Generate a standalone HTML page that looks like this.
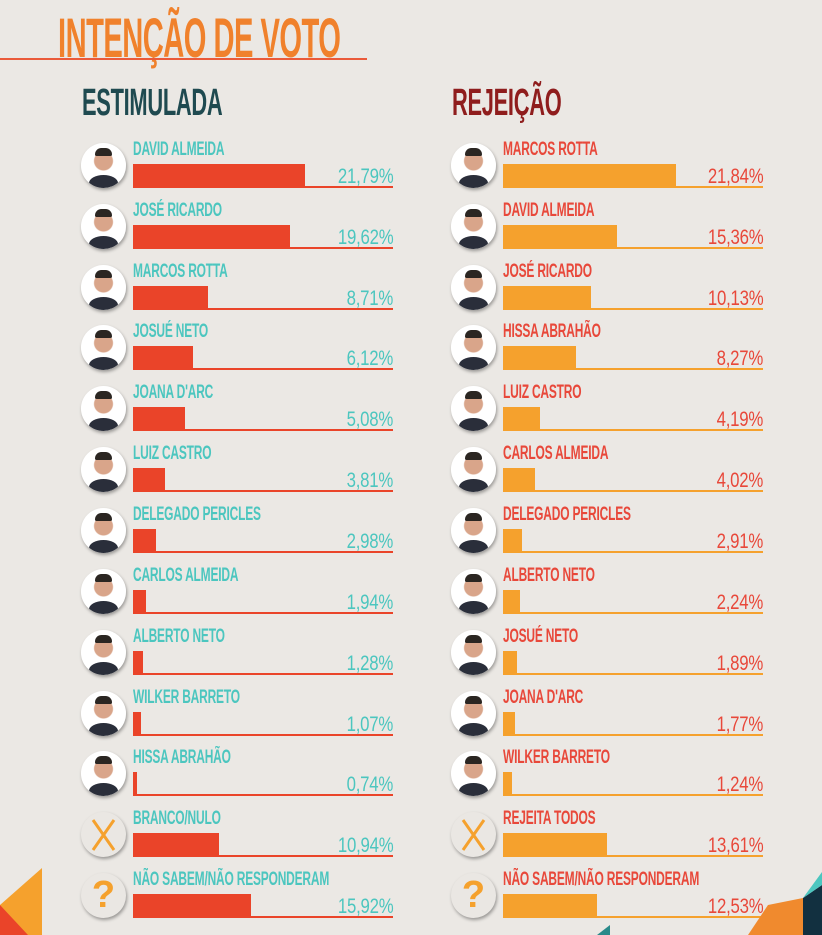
<!DOCTYPE html>
<html><head><meta charset="utf-8"><style>
*{margin:0;padding:0;box-sizing:border-box}
body{width:822px;height:935px;background:#ebe8e4;position:relative;overflow:hidden;font-family:"Liberation Sans Narrow","Liberation Sans",sans-serif;font-weight:bold}
.abs{position:absolute}
.title{left:58px;top:10px;font-size:56px;color:#f0812c;letter-spacing:-1px;line-height:56px;transform:scaleX(0.52);transform-origin:left;white-space:nowrap}
.h{top:84px;font-size:38px;line-height:38px;letter-spacing:-0.5px;transform:scaleX(0.575);transform-origin:left;white-space:nowrap}
.row{position:absolute;width:320px;height:60px}
.av{position:absolute;left:0;top:3px;width:45px;height:45px;border-radius:50%;background:radial-gradient(circle at 50% 40%,#d9a58a 0 9px,#fff 10px);box-shadow:1px 2px 3px rgba(0,0,0,.35);overflow:hidden}
.av:after{content:"";position:absolute;left:8px;top:32px;width:29px;height:16px;border-radius:50% 50% 0 0;background:#2a2e3a}
.av:before{content:"";position:absolute;left:14px;top:5px;width:17px;height:8px;border-radius:8px 8px 2px 2px;background:#2b2622}
.sym{position:absolute;left:0;top:3px;width:45px;height:45px;border-radius:50%;background:#eae7e3;box-shadow:1px 2px 3px rgba(0,0,0,.35);color:#f5a12d;font-size:38px;text-align:center;line-height:45px;font-family:"Liberation Sans",sans-serif}
.nm{position:absolute;left:52px;top:0px;font-size:19px;line-height:20px;white-space:nowrap;transform:scaleX(0.63);transform-origin:left;letter-spacing:-0.3px}
.bar{position:absolute;left:52px;top:24px;height:24px}
.ln{position:absolute;left:52px;top:46px;width:260px;height:2px}
.pc{position:absolute;right:8px;top:26px;font-size:21px;line-height:21px;transform:scaleX(0.8);transform-origin:right;letter-spacing:-0.3px;font-weight:normal}
.L .nm,.L .pc{color:#4cc6bf}.L .bar,.L .ln{background:#ea4429}
.R .nm,.R .pc{color:#e8483a}.R .bar,.R .ln{background:#f5a12d}
</style></head><body>
<div class="abs title">INTENÇÃO DE VOTO</div>
<div class="abs" style="left:0;top:58px;width:367px;height:2px;background:#ea5a3a"></div>
<div class="abs h" style="left:82px;color:#1f4a50">ESTIMULADA</div>
<div class="abs h" style="left:452px;color:#8f1d1d">REJEIÇÃO</div>

<div class="row L" style="left:81px;top:140px"><div class="av"></div><div class="nm">DAVID ALMEIDA</div><div class="ln"></div><div class="bar" style="width:172px"></div><div class="pc">21,79%</div></div>
<div class="row L" style="left:81px;top:201px"><div class="av"></div><div class="nm">JOSÉ RICARDO</div><div class="ln"></div><div class="bar" style="width:157px"></div><div class="pc">19,62%</div></div>
<div class="row L" style="left:81px;top:262px"><div class="av"></div><div class="nm">MARCOS ROTTA</div><div class="ln"></div><div class="bar" style="width:75px"></div><div class="pc">8,71%</div></div>
<div class="row L" style="left:81px;top:322px"><div class="av"></div><div class="nm">JOSUÉ NETO</div><div class="ln"></div><div class="bar" style="width:60px"></div><div class="pc">6,12%</div></div>
<div class="row L" style="left:81px;top:383px"><div class="av"></div><div class="nm">JOANA D'ARC</div><div class="ln"></div><div class="bar" style="width:52px"></div><div class="pc">5,08%</div></div>
<div class="row L" style="left:81px;top:444px"><div class="av"></div><div class="nm">LUIZ CASTRO</div><div class="ln"></div><div class="bar" style="width:32px"></div><div class="pc">3,81%</div></div>
<div class="row L" style="left:81px;top:505px"><div class="av"></div><div class="nm">DELEGADO PERICLES</div><div class="ln"></div><div class="bar" style="width:23px"></div><div class="pc">2,98%</div></div>
<div class="row L" style="left:81px;top:566px"><div class="av"></div><div class="nm">CARLOS ALMEIDA</div><div class="ln"></div><div class="bar" style="width:13px"></div><div class="pc">1,94%</div></div>
<div class="row L" style="left:81px;top:627px"><div class="av"></div><div class="nm">ALBERTO NETO</div><div class="ln"></div><div class="bar" style="width:10px"></div><div class="pc">1,28%</div></div>
<div class="row L" style="left:81px;top:688px"><div class="av"></div><div class="nm">WILKER BARRETO</div><div class="ln"></div><div class="bar" style="width:8px"></div><div class="pc">1,07%</div></div>
<div class="row L" style="left:81px;top:748px"><div class="av"></div><div class="nm">HISSA ABRAHÃO</div><div class="ln"></div><div class="bar" style="width:4px"></div><div class="pc">0,74%</div></div>
<div class="row L" style="left:81px;top:809px"><div class="sym"><svg width="45" height="45"><path d="M12 8L33 38M33 8L12 38" stroke="#f5a12d" stroke-width="3"/></svg></div><div class="nm">BRANCO/NULO</div><div class="ln"></div><div class="bar" style="width:86px"></div><div class="pc">10,94%</div></div>
<div class="row L" style="left:81px;top:870px"><div class="sym">?</div><div class="nm">NÃO SABEM/NÃO RESPONDERAM</div><div class="ln"></div><div class="bar" style="width:118px"></div><div class="pc">15,92%</div></div>

<div class="row R" style="left:451px;top:140px"><div class="av"></div><div class="nm">MARCOS ROTTA</div><div class="ln"></div><div class="bar" style="width:173px"></div><div class="pc">21,84%</div></div>
<div class="row R" style="left:451px;top:201px"><div class="av"></div><div class="nm">DAVID ALMEIDA</div><div class="ln"></div><div class="bar" style="width:114px"></div><div class="pc">15,36%</div></div>
<div class="row R" style="left:451px;top:262px"><div class="av"></div><div class="nm">JOSÉ RICARDO</div><div class="ln"></div><div class="bar" style="width:88px"></div><div class="pc">10,13%</div></div>
<div class="row R" style="left:451px;top:322px"><div class="av"></div><div class="nm">HISSA ABRAHÃO</div><div class="ln"></div><div class="bar" style="width:73px"></div><div class="pc">8,27%</div></div>
<div class="row R" style="left:451px;top:383px"><div class="av"></div><div class="nm">LUIZ CASTRO</div><div class="ln"></div><div class="bar" style="width:37px"></div><div class="pc">4,19%</div></div>
<div class="row R" style="left:451px;top:444px"><div class="av"></div><div class="nm">CARLOS ALMEIDA</div><div class="ln"></div><div class="bar" style="width:32px"></div><div class="pc">4,02%</div></div>
<div class="row R" style="left:451px;top:505px"><div class="av"></div><div class="nm">DELEGADO PERICLES</div><div class="ln"></div><div class="bar" style="width:19px"></div><div class="pc">2,91%</div></div>
<div class="row R" style="left:451px;top:566px"><div class="av"></div><div class="nm">ALBERTO NETO</div><div class="ln"></div><div class="bar" style="width:17px"></div><div class="pc">2,24%</div></div>
<div class="row R" style="left:451px;top:627px"><div class="av"></div><div class="nm">JOSUÉ NETO</div><div class="ln"></div><div class="bar" style="width:14px"></div><div class="pc">1,89%</div></div>
<div class="row R" style="left:451px;top:688px"><div class="av"></div><div class="nm">JOANA D'ARC</div><div class="ln"></div><div class="bar" style="width:12px"></div><div class="pc">1,77%</div></div>
<div class="row R" style="left:451px;top:748px"><div class="av"></div><div class="nm">WILKER BARRETO</div><div class="ln"></div><div class="bar" style="width:9px"></div><div class="pc">1,24%</div></div>
<div class="row R" style="left:451px;top:809px"><div class="sym"><svg width="45" height="45"><path d="M12 8L33 38M33 8L12 38" stroke="#f5a12d" stroke-width="3"/></svg></div><div class="nm">REJEITA TODOS</div><div class="ln"></div><div class="bar" style="width:104px"></div><div class="pc">13,61%</div></div>
<div class="row R" style="left:451px;top:870px"><div class="sym">?</div><div class="nm">NÃO SABEM/NÃO RESPONDERAM</div><div class="ln"></div><div class="bar" style="width:94px"></div><div class="pc">12,53%</div></div>

<svg class="abs" style="left:0;top:0" width="822" height="935">
<polygon points="0,905 42,868 42,935 0,935" fill="#f5a12d"/>
<polygon points="0,905 0,935 28,935" fill="#ea4429"/>
<polygon points="748,935 768,905 803,898 803,935" fill="#f08a2e"/>
<polygon points="803,898 822,885 822,935 803,935" fill="#123040"/>
<polygon points="803,898 822,872 822,885" fill="#4cc6bf"/>
<polygon points="597,935 610,925 610,935" fill="#2a8a8a"/>
</svg>
</body></html>
